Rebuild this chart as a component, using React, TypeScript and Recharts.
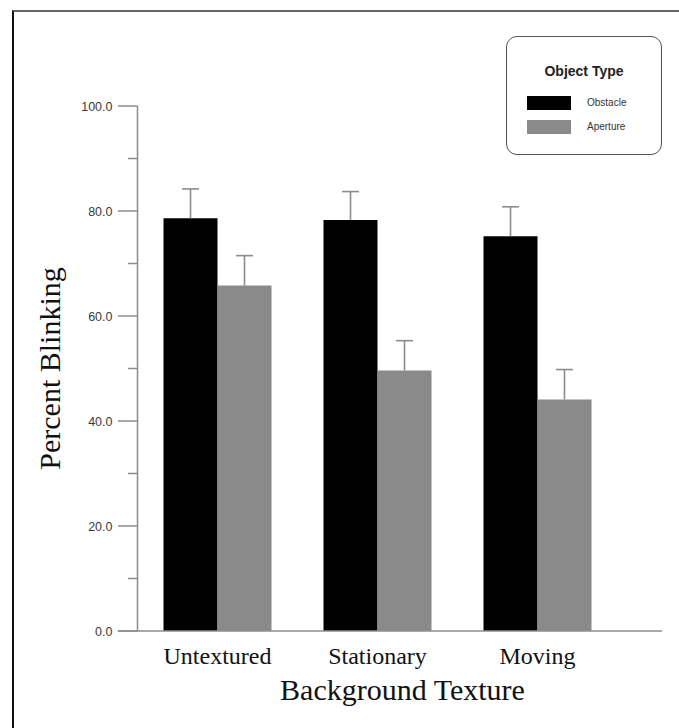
import { BarChart, Bar, XAxis, YAxis } from "recharts";

const categories = ["Untextured", "Stationary", "Moving"];
const seriesNames = ["Obstacle", "Aperture"];
const obstacle = [78.6, 78.3, 75.2];
const obstacleErr = [5.6, 5.4, 5.6];
const aperture = [65.8, 49.6, 44.1];
const apertureErr = [5.7, 5.7, 5.7];
const yTicks = [0, 10, 20, 30, 40, 50, 60, 70, 80, 90, 100];

const colors = ["#000000", "#8a8a8a"];
const axisGray = "#8c8c8c";
const serif = '"Liberation Serif", "Times New Roman", serif';
const sans = '"Liberation Sans", Arial, sans-serif';

const data = categories.map((name, i) => ({
  name,
  obstacle: obstacle[i],
  obstacleErr: obstacleErr[i],
  aperture: aperture[i],
  apertureErr: apertureErr[i],
}));

// upward-only error whisker drawn in the stacked "err" segment
function ErrorShape(props: any) {
  const { x, y, width, height } = props;
  const cx = x + width / 2;
  return (
    <g>
      <line x1={cx} x2={cx} y1={y + height} y2={y} stroke={axisGray} strokeWidth={1.6} />
      <line x1={cx - 8.5} x2={cx + 8.5} y1={y} y2={y} stroke={axisGray} strokeWidth={1.6} />
    </g>
  );
}

function YTick(props: any) {
  const { x, y, payload } = props;
  const major = payload.value % 20 === 0;
  return (
    <g>
      <line
        x1={x - (major ? 19.5 : 9.5)}
        x2={x}
        y1={y}
        y2={y}
        stroke={axisGray}
        strokeWidth={1.5}
      />
      {major && (
        <text
          x={x - 25}
          y={y}
          dy="0.36em"
          textAnchor="end"
          fontFamily={sans}
          fontSize={12.5}
          fill="#3a3a3a"
        >
          {payload.value.toFixed(1)}
        </text>
      )}
    </g>
  );
}

function XTitle(props: any) {
  const vb = props.viewBox;
  return (
    <g>
      <line
        x1={vb.x - 19.5}
        x2={vb.x + vb.width + 44.5}
        y1={vb.y}
        y2={vb.y}
        stroke={axisGray}
        strokeWidth={1.5}
      />
      <text
        x={vb.x + vb.width / 2 + 25}
        y={vb.y + 69}
        textAnchor="middle"
        fontFamily={serif}
        fontSize={30}
        fill="#111"
      >
        Background Texture
      </text>
    </g>
  );
}

function YTitle(props: any) {
  const vb = props.viewBox;
  const cy = vb.y + vb.height / 2;
  const cx = 60;
  return (
    <text
      x={cx}
      y={cy}
      transform={`rotate(-90 ${cx} ${cy})`}
      textAnchor="middle"
      fontFamily={serif}
      fontSize={30}
      fill="#111"
    >
      Percent Blinking
    </text>
  );
}

function LegendBox() {
  return (
    <div
      style={{
        position: "absolute",
        left: 506,
        top: 36,
        width: 154,
        height: 117,
        border: "1.5px solid #555",
        borderRadius: 11,
        fontFamily: sans,
        background: "#fff",
      }}
    >
      <div
        style={{
          position: "absolute",
          top: 26,
          width: "100%",
          textAlign: "center",
          fontSize: 14,
          fontWeight: "bold",
          color: "#222",
        }}
      >
        Object Type
      </div>
      {seriesNames.map((name, i) => (
        <div key={name}>
          <div
            style={{
              position: "absolute",
              left: 20,
              top: 59 + i * 23.5,
              width: 44,
              height: 14,
              background: colors[i],
            }}
          />
          <div
            style={{
              position: "absolute",
              left: 80,
              top: 59 + i * 23.5,
              fontSize: 10,
              lineHeight: "14px",
              color: "#333",
            }}
          >
            {name}
          </div>
        </div>
      ))}
    </div>
  );
}

export default function App() {
  return (
    <div
      style={{
        position: "absolute",
        left: 0,
        top: 0,
        width: 679,
        height: 728,
        background: "#fff",
        overflow: "hidden",
      }}
    >
      <div
        style={{
          position: "absolute",
          left: 12,
          top: 10,
          width: 700,
          height: 740,
          borderLeft: "2px solid #111",
          borderTop: "2px solid #666",
        }}
      />
      <BarChart
        width={679}
        height={728}
        data={data}
        margin={{ top: 106, right: 61.5, left: 0, bottom: 0 }}
        barCategoryGap={26}
        barGap={0}
      >
        <XAxis
          dataKey="name"
          height={97}
          axisLine={false}
          tickLine={false}
          tickSize={0}
          tickMargin={16}
          tick={{ fontFamily: serif, fontSize: 24, fill: "#111" }}
          label={{ content: XTitle }}
        />
        <YAxis
          width={137.5}
          domain={[0, 100]}
          ticks={yTicks}
          interval={0}
          tickLine={false}
          tickSize={0}
          tickMargin={0}
          axisLine={{ stroke: axisGray, strokeWidth: 1.5 }}
          tick={YTick}
          label={{ content: YTitle }}
        />
        <Bar dataKey="obstacle" stackId="obs" fill={colors[0]} isAnimationActive={false} />
        <Bar dataKey="obstacleErr" stackId="obs" shape={ErrorShape} isAnimationActive={false} />
        <Bar dataKey="aperture" stackId="ape" fill={colors[1]} isAnimationActive={false} />
        <Bar dataKey="apertureErr" stackId="ape" shape={ErrorShape} isAnimationActive={false} />
      </BarChart>
      <LegendBox />
    </div>
  );
}
